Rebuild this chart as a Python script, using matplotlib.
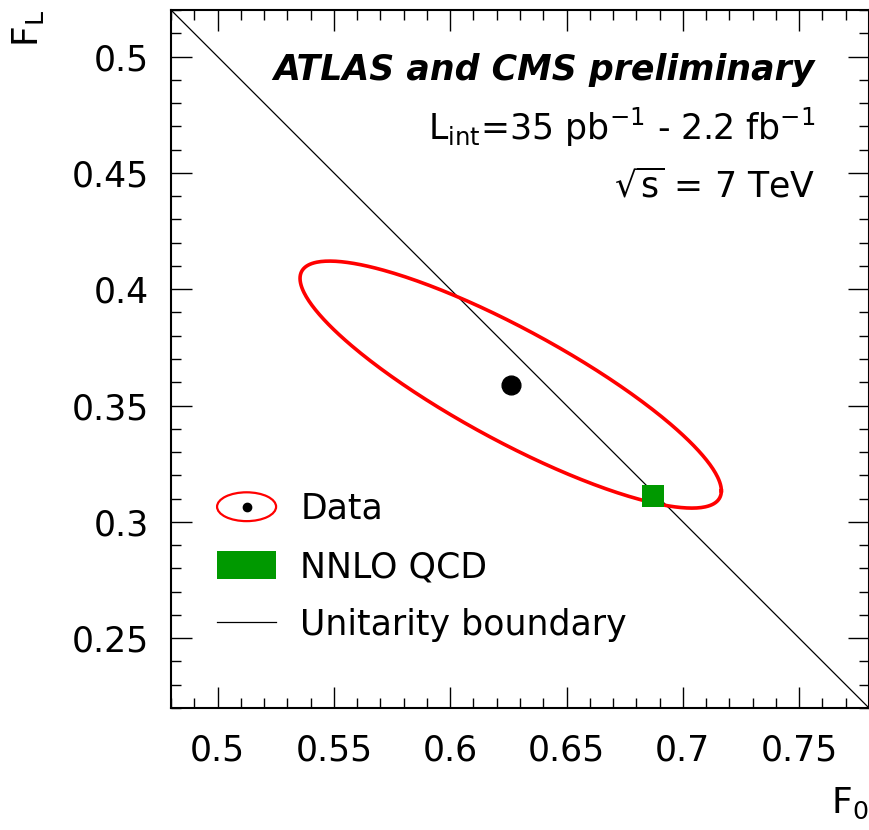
import numpy as np
import matplotlib
matplotlib.use('Agg')
import matplotlib.pyplot as plt
import matplotlib.patches as mpatches
from matplotlib.patches import Ellipse
from matplotlib.lines import Line2D
from matplotlib.legend_handler import HandlerBase

plt.rcParams['font.family'] = ['DejaVu Sans']
plt.rcParams['mathtext.fontset'] = 'dejavusans'

# combined W helicity fractions (F0, FL)
data_center = [0.626, 0.359]
data_errors = [0.0597, 0.0350]
data_correlation = -0.86
contour_dchi2 = 2.30          # 68% CL in two dimensions

nnlo_center = [0.687, 0.311]

# unitarity boundary F0 + FL = 1
boundary_f0 = [0.48, 0.78]
boundary_fl = [1 - f for f in boundary_f0]

x_ticks = [0.5, 0.55, 0.6, 0.65, 0.7, 0.75]
y_ticks = [0.25, 0.3, 0.35, 0.4, 0.45, 0.5]
x_range = [0.48, 0.78]
y_range = [0.22, 0.52]

RED = '#ff0000'
GREEN = '#009900'
FS = 25


def contour_points(center, errors, rho, dchi2, n=400):
    cov = np.array([[errors[0] ** 2, rho * errors[0] * errors[1]],
                    [rho * errors[0] * errors[1], errors[1] ** 2]])
    chol = np.linalg.cholesky(cov)
    t = np.linspace(0, 2 * np.pi, n)
    circle = np.vstack([np.cos(t), np.sin(t)]) * np.sqrt(dchi2)
    pts = chol @ circle
    return center[0] + pts[0], center[1] + pts[1]


class HandlerContour(HandlerBase):
    def create_artists(self, legend, orig_handle, xdescent, ydescent,
                       width, height, fontsize, trans):
        cx = width / 2 - xdescent
        cy = height / 2 - ydescent
        ring = Ellipse((cx, cy), width, height, fill=False,
                       edgecolor=RED, lw=1.6, transform=trans)
        dot = Line2D([cx], [cy], marker='o', color='black',
                     markersize=6, transform=trans)
        return [ring, dot]


fig = plt.figure(figsize=(8.69, 8.30), dpi=100)
ax = fig.add_axes([171 / 869, 1 - 708 / 830, 698 / 869, 698 / 830])

line_bound, = ax.plot(boundary_f0, boundary_fl, color='black', lw=0.9)

cx, cy = contour_points(data_center, data_errors, data_correlation, contour_dchi2)
contour, = ax.plot(cx, cy, color=RED, lw=2.6)
ax.plot(data_center[0], data_center[1], 'o', color='black', markersize=13.5)

ax.plot(nnlo_center[0], nnlo_center[1], 's', color=GREEN, markersize=16.5,
        markeredgewidth=0)

ax.set_xlim(x_range)
ax.set_ylim(y_range)
ax.set_xticks(x_ticks)
ax.set_yticks(y_ticks)
ax.set_xticklabels(['%g' % v for v in x_ticks])
ax.set_yticklabels(['%g' % v for v in y_ticks])
ax.set_xticks(np.arange(0.48, 0.7801, 0.01), minor=True)
ax.set_yticks(np.arange(0.22, 0.5201, 0.01), minor=True)

ax.tick_params(which='both', direction='in', top=True, right=True,
               width=1.0, labelsize=FS)
ax.tick_params(which='major', length=15)
ax.tick_params(which='minor', length=7.5)
ax.tick_params(axis='x', which='major', pad=18)
ax.tick_params(axis='y', which='major', pad=16)
for s in ax.spines.values():
    s.set_linewidth(1.5)

ax.text(1.0, -0.150, r'$\mathregular{F_{0}}$', transform=ax.transAxes,
        ha='right', va='baseline', fontsize=FS + 1)
ax.text(-0.205, 1.0, r'$\mathregular{F_{L}}$', transform=ax.transAxes,
        ha='center', va='top', rotation=90, fontsize=FS + 1)

ax.text(0.9226, 0.8997, 'ATLAS and CMS preliminary', transform=ax.transAxes,
        ha='right', va='baseline', fontsize=FS, fontweight='bold',
        fontstyle='italic')
ax.text(0.9226, 0.8138,
        r'$\mathregular{L_{int}}$=35 pb$\mathregular{^{-1}}$ - 2.2 fb$\mathregular{^{-1}}$',
        transform=ax.transAxes, ha='right', va='baseline', fontsize=FS)
ax.text(0.9226, 0.732, r'$\sqrt{\mathregular{s}}$ = 7 TeV',
        transform=ax.transAxes, ha='right', va='baseline', fontsize=FS)

nnlo_patch = mpatches.Patch(facecolor=GREEN, edgecolor='none')
ax.legend([contour, nnlo_patch, line_bound],
          ['Data', 'NNLO QCD', 'Unitarity boundary'],
          handler_map={contour: HandlerContour()},
          loc='center left', bbox_to_anchor=(0.066, 0.202),
          frameon=False, fontsize=FS, borderpad=0, borderaxespad=0,
          handlelength=1.7, handleheight=0.9, handletextpad=0.7,
          labelspacing=0.7)

fig.savefig('out.png', dpi=100)
